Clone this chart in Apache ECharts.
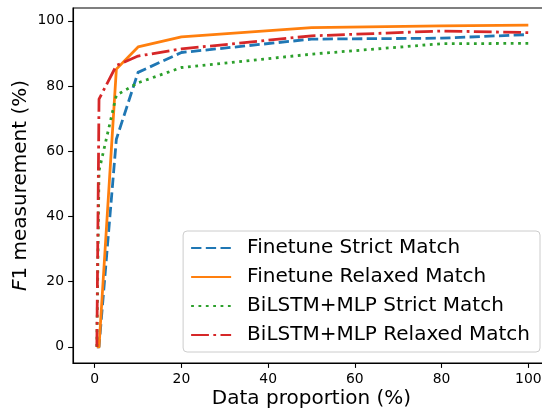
<!DOCTYPE html>
<html>
<head>
<meta charset="utf-8">
<script src="https://cdn.jsdelivr.net/npm/echarts@6/dist/echarts.min.js"></script>
<style>
  html, body { margin: 0; padding: 0; background: #fff; }
  #chart { width: 542px; height: 409px; }
</style>
</head>
<body>
<div id="chart"></div>
<script>
// data proportion (%) on x, F1 (%) on y
const proportions = [0.5, 1, 5, 10, 20, 50, 80, 100];
const finetuneStrict = [0, 0, 63.7, 84.2, 90.3, 94.4, 94.7, 95.8];
const finetuneRelaxed = [0, 0, 85.2, 92.0, 95.1, 97.9, 98.5, 98.7];
const bilstmStrict = [0, 54, 77.2, 81.0, 85.7, 89.8, 93.0, 93.1];
const bilstmRelaxed = [0, 76, 86.3, 89.2, 91.4, 95.4, 96.9, 96.4];
const tickValues = [0, 20, 40, 60, 80, 100];

const font = 'DejaVu Sans';
const lw = 2.78;

function pts (ys) {
  return proportions.map((x, i) => [x, ys[i]]);
}

function line (name, ys, color, dash) {
  return {
    name: name,
    type: 'line',
    data: pts(ys),
    symbol: 'none',
    showSymbol: false,
    animation: false,
    lineStyle: { color: color, width: lw, type: dash, cap: 'butt', join: 'round' },
    itemStyle: { color: color }
  };
}

const chart = echarts.init(document.getElementById('chart'));
chart.setOption({
  animation: false,
  grid: {
    left: 73, top: 8, width: 477, height: 355,
    outerBoundsMode: 'none', containLabel: false,
    show: true, borderColor: '#000', borderWidth: 1.1, backgroundColor: 'transparent'
  },
  xAxis: {
    type: 'value', min: -5, max: 105,
    name: 'Data proportion (%)', nameLocation: 'middle', nameGap: 26,
    nameMoveOverlap: false,
    nameTextStyle: { fontFamily: font, fontSize: 20, color: '#000' },
    axisLine: { show: true, onZero: false, lineStyle: { color: '#000', width: 1.1 } },
    axisTick: { show: true, length: 4.9, customValues: tickValues, lineStyle: { color: '#000', width: 1.1 } },
    axisLabel: { customValues: tickValues, fontFamily: font, fontSize: 13.9, color: '#000', margin: 9 },
    splitLine: { show: false }
  },
  yAxis: {
    type: 'value', min: -4.95, max: 103.95,
    name: '{i|F}1 measurement (%)', nameLocation: 'middle', nameGap: 42,
    nameMoveOverlap: false,
    nameTextStyle: {
      fontFamily: font, fontSize: 20, color: '#000',
      rich: { i: { fontFamily: font, fontSize: 20, fontStyle: 'italic', color: '#000' } }
    },
    axisLine: { show: true, onZero: false, lineStyle: { color: '#000', width: 1.1 } },
    axisTick: { show: true, length: 4.9, customValues: tickValues, lineStyle: { color: '#000', width: 1.1 } },
    axisLabel: { customValues: tickValues, fontFamily: font, fontSize: 13.9, color: '#000', margin: 9 },
    splitLine: { show: false }
  },
  legend: {
    orient: 'vertical',
    right: 2, bottom: 57,
    padding: [7, 10, 7, 7],
    itemWidth: 40, itemHeight: 14, itemGap: 9,
    borderColor: '#cccccc', borderWidth: 1, borderRadius: 4,
    backgroundColor: 'rgba(255,255,255,0.8)',
    itemStyle: { opacity: 0 },
    textStyle: { fontFamily: font, fontSize: 20, lineHeight: 20, color: '#000', padding: [0, 0, 0, 11] },
    data: ['Finetune Strict Match', 'Finetune Relaxed Match', 'BiLSTM+MLP Strict Match', 'BiLSTM+MLP Relaxed Match']
  },
  series: [
    line('Finetune Strict Match', finetuneStrict, '#1f77b4', [10.3, 4.4]),
    line('Finetune Relaxed Match', finetuneRelaxed, '#ff7f0e', 'solid'),
    line('BiLSTM+MLP Strict Match', bilstmStrict, '#2ca02c', [2.78, 4.58]),
    line('BiLSTM+MLP Relaxed Match', bilstmRelaxed, '#d62728', [17.8, 4.4, 2.78, 4.4])
  ]
});
</script>
</body>
</html>
